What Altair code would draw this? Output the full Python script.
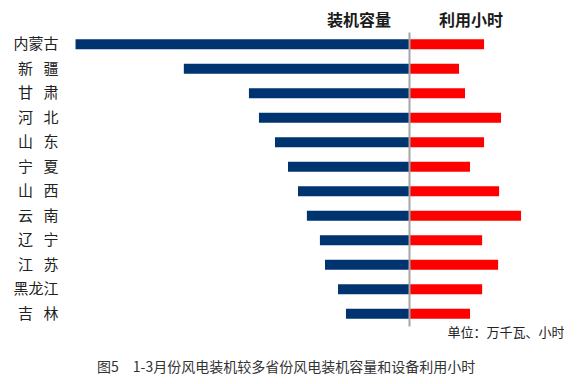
import altair as alt
import pandas as pd

provinces = ["内蒙古", "新\u2002\u2009疆", "甘\u2002\u2009肃", "河\u2002\u2009北", "山\u2002\u2009东", "宁\u2002\u2009夏",
             "山\u2002\u2009西", "云\u2002\u2009南", "辽\u2002\u2009宁", "江\u2002\u2009苏", "黑龙江", "吉\u2002\u2009林"]
capacity = [2100, 1418, 1008, 945, 844, 762, 699, 643, 561, 529, 447, 397]   # 装机容量 (万千瓦)
hours = [465, 310, 347, 570, 465, 378, 558, 694, 453, 552, 453, 378]         # 利用小时

df = pd.DataFrame({"province": provinces, "capacity": capacity, "hours": hours})

FONT = "Noto Sans CJK SC"
H = 294

yscale = alt.Scale(paddingInner=0.592, paddingOuter=0.296)

left = alt.Chart(df).mark_bar(color="#003470", size=10).encode(
    x=alt.X("capacity:Q", scale=alt.Scale(domain=[0, 2160], reverse=True, nice=False), axis=None),
    y=alt.Y("province:N", sort=provinces, scale=yscale,
            axis=alt.Axis(title=None, ticks=False, domain=False, labelPadding=8, tickSize=0,
                          labelFontSize=15, labelFont=FONT, labelColor="#222222")),
).properties(
    width=343, height=H,
    title=alt.Title("装机容量", anchor="end", dx=-18, fontSize=16, fontWeight="bold", font=FONT,
                    color="#1a1a1a", offset=3),
)

right = alt.Chart(df).mark_bar(color="#FF0000", size=10).encode(
    x=alt.X("hours:Q", scale=alt.Scale(domain=[0, 960], nice=False),
            axis=alt.Axis(labels=False, ticks=False, domain=False, grid=False,
                          title="单位：万千瓦、小时", titleAnchor="end", titleFont=FONT,
                          titleFontSize=13, titleFontWeight="normal", titleColor="#222222",
                          titlePadding=0)),
    y=alt.Y("province:N", sort=provinces, scale=yscale,
            axis=alt.Axis(title=None, labels=False, ticks=False, domain=True, domainColor="#A6A6A6",
                          domainWidth=2, zindex=1, grid=False)),
).properties(
    width=155, height=H,
    title=alt.Title("利用小时", anchor="start", dx=30, fontSize=16, fontWeight="bold", font=FONT,
                    color="#1a1a1a", offset=3),
)

chart = alt.hconcat(left, right, spacing=0).properties(
    padding={"left": 4, "top": 5, "right": 0, "bottom": 0},
    title=alt.Title("图5\u20031-3月份风电装机较多省份风电装机容量和设备利用小时", orient="bottom",
                    anchor="start", dx=84, fontSize=14, fontWeight="normal", font=FONT,
                    color="#333333", offset=22),
).configure_view(stroke=None)

chart.save("out.html", embed_options={"renderer": "svg", "actions": False})
